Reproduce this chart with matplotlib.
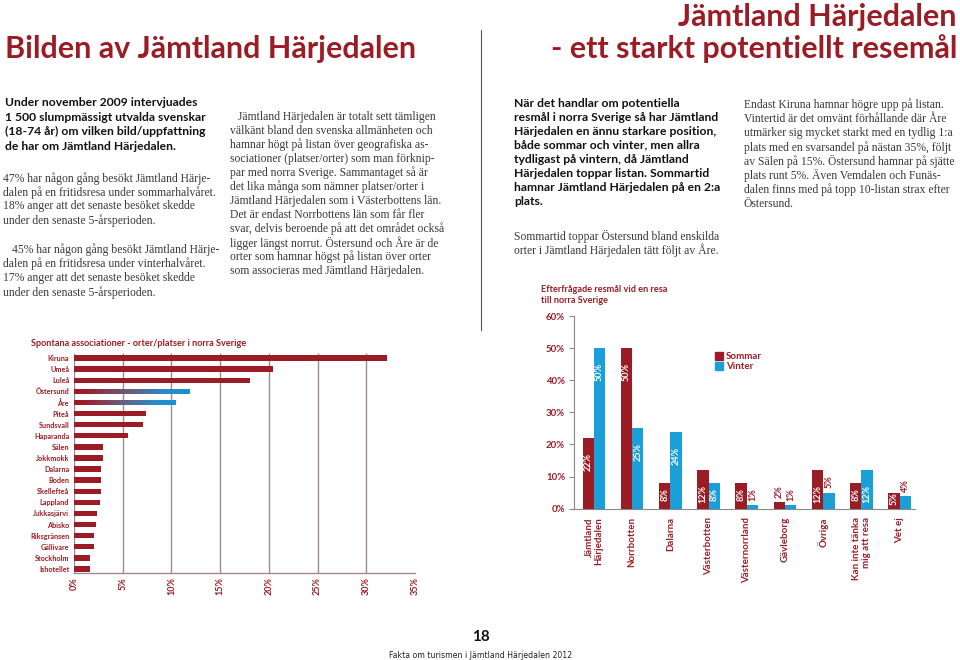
import matplotlib
matplotlib.use("Agg")
import matplotlib.pyplot as plt
import numpy as np
from matplotlib.colors import LinearSegmentedColormap
from matplotlib.lines import Line2D

# ---------------- data ----------------
assoc_places = ["Kiruna", "Umeå", "Luleå", "Östersund", "Åre", "Piteå", "Sundsvall",
                "Haparanda", "Sälen", "Jokkmokk", "Dalarna", "Boden", "Skellefteå",
                "Lappland", "Jukkasjärvi", "Abisko", "Riksgränsen", "Gällivare",
                "Stockholm", "Ishotellet"]
assoc_values = [32.1, 20.4, 18.1, 11.9, 10.4, 7.4, 7.1, 5.5, 3.0, 3.0, 2.8, 2.8, 2.8,
                2.7, 2.4, 2.3, 2.1, 2.1, 1.6, 1.6]
assoc_highlight = ["Östersund", "Åre"]
assoc_ticks = [0, 5, 10, 15, 20, 25, 30, 35]

dest_categories = ["Jämtland\nHärjedalen", "Norrbotten", "Dalarna", "Västerbotten",
                   "Västernorrland", "Gävleborg", "Övriga", "Kan inte tänka\nmig att resa",
                   "Vet ej"]
dest_sommar = [22, 50, 8, 12, 8, 2, 12, 8, 5]
dest_vinter = [50, 25, 24, 8, 1, 1, 5, 12, 4]
dest_ticks = [0, 10, 20, 30, 40, 50, 60]

RED = "#9b1c24"
BLUE = "#1b9fd9"
GRID = "#a08a90"
SANS = ["Lato", "DejaVu Sans"]
SERIF = ["Liberation Serif", "DejaVu Serif"]
TXT = "#3a3a3a"

W, H = 960, 660
fig = plt.figure(figsize=(9.6, 6.6), dpi=100)


def fx(x):
    return x / W


def fy(y):
    return 1 - y / H


def ftext(x, y, s, **kw):
    fig.text(fx(x), fy(y), s, **kw)


# ---------------- header ----------------
ftext(5, 49, "Bilden av Jämtland Härjedalen", family=SANS, weight="bold",
      fontsize=22, color=RED, ha="left", va="center")
ftext(957, 17, "Jämtland Härjedalen", family=SANS, weight="bold",
      fontsize=22, color=RED, ha="right", va="center")
ftext(957, 49, "- ett starkt potentiellt resemål", family=SANS, weight="bold",
      fontsize=22, color=RED, ha="right", va="center")
fig.add_artist(Line2D([fx(480.5), fx(480.5)], [fy(30), fy(330)], color="#555555", lw=0.8))

# ---------------- text columns ----------------
col1_bold = ["Under november 2009 intervjuades",
             "1 500 slumpmässigt utvalda svenskar",
             "(18-74 år) om vilken bild/uppfattning",
             "de har om Jämtland Härjedalen."]
col1_p1 = ["47% har någon gång besökt Jämtland Härje-",
           "dalen på en fritidsresa under sommarhalvåret.",
           "18% anger att det senaste besöket skedde",
           "under den senaste 5-årsperioden."]
col1_p2 = ["45% har någon gång besökt Jämtland Härje-",
           "dalen på en fritidsresa under vinterhalvåret.",
           "17% anger att det senaste besöket skedde",
           "under den senaste 5-årsperioden."]
col2 = ["Jämtland Härjedalen är totalt sett tämligen",
        "välkänt bland den svenska allmänheten och",
        "hamnar högt på listan över geografiska as-",
        "sociationer (platser/orter) som man förknip-",
        "par med norra Sverige. Sammantaget så är",
        "det lika många som nämner platser/orter i",
        "Jämtland Härjedalen som i Västerbottens län.",
        "Det är endast Norrbottens län som får fler",
        "svar, delvis beroende på att det området också",
        "ligger längst norrut. Östersund och Åre är de",
        "orter som hamnar högst på listan över orter",
        "som associeras med Jämtland Härjedalen."]
col3_bold = ["När det handlar om potentiella",
             "resmål i norra Sverige så har Jämtland",
             "Härjedalen en ännu starkare position,",
             "både sommar och vinter, men allra",
             "tydligast på vintern, då Jämtland",
             "Härjedalen toppar listan. Sommartid",
             "hamnar Jämtland Härjedalen på en 2:a",
             "plats."]
col3_p = ["Sommartid toppar Östersund bland enskilda",
          "orter i Jämtland Härjedalen tätt följt av Åre."]
col4 = ["Endast Kiruna hamnar högre upp på listan.",
        "Vintertid är det omvänt förhållande där Åre",
        "utmärker sig mycket starkt med en tydlig 1:a",
        "plats med en svarsandel på nästan 35%, följt",
        "av Sälen på 15%. Östersund hamnar på sjätte",
        "plats runt 5%. Även Vemdalen och Funäs-",
        "dalen finns med på topp 10-listan strax efter",
        "Östersund."]


def para(lines, x, y0, dy, bold=False, indent=0):
    for i, s in enumerate(lines):
        xx = x + (indent if i == 0 else 0)
        if bold:
            ftext(xx, y0 + i * dy, s, family=SANS, weight="bold", fontsize=8.75,
                  color="#111111", ha="left", va="center")
        else:
            ftext(xx, y0 + i * dy, s, family=SERIF, fontsize=8.4,
                  color=TXT, ha="left", va="center")


para(col1_bold, 5, 102.7, 14.5, bold=True)
para(col1_p1, 3, 178.3, 14.1)
para(col1_p2, 3, 250, 14.1, indent=9)
para(col2, 230, 116.7, 14.03, indent=8)
para(col3_bold, 514, 103.3, 14.0, bold=True)
para(col3_p, 514, 236, 14.1)
para(col4, 744, 105, 14.1)

# ---------------- left chart: spontaneous associations ----------------
ax1 = fig.add_axes([fx(74), fy(573), (415 - 74) / W, (573 - 353) / H])
ypos = np.arange(len(assoc_places))
bar_h = 0.48
bars = ax1.barh(ypos, assoc_values, height=bar_h, color=RED, zorder=3)
cmap = LinearSegmentedColormap.from_list(
    "grad", [(0, RED), (0.08, RED), (0.45, "#6c5a78"), (0.8, "#2a8cc9"), (1, "#1b90d2")])
grad = np.linspace(0, 1, 256).reshape(1, -1)
for name, v, b, y in zip(assoc_places, assoc_values, bars, ypos):
    if name in assoc_highlight:
        b.set_facecolor("none")
        im = ax1.imshow(grad, cmap=cmap, aspect="auto", zorder=4,
                        extent=(0, v, y + bar_h / 2, y - bar_h / 2))
        im.set_clip_path(b)
ax1.vlines(assoc_ticks[:-1], -0.45, 19.36, color=GRID, lw=1.0, zorder=1)
ax1.set_xlim(0, 35)
ax1.set_ylim(19.36, -0.45)
ax1.set_yticks(ypos)
ax1.set_yticklabels(assoc_places, family=SANS, weight="bold", fontsize=5.2, color=RED)
ax1.set_xticks(assoc_ticks)
ax1.set_xticklabels([f"{t}%" for t in assoc_ticks], rotation=90, family=SANS,
                    weight="bold", fontsize=6.5, color=RED, va="top")
ax1.tick_params(axis="both", length=0)
ax1.tick_params(axis="y", pad=3.5)
ax1.tick_params(axis="x", pad=3)
for s in ["top", "right", "left"]:
    ax1.spines[s].set_visible(False)
ax1.spines["bottom"].set_color(GRID)
ax1.spines["bottom"].set_linewidth(1.0)
ax1.set_facecolor("none")
ftext(31, 343, "Spontana associationer - orter/platser i norra Sverige", family=SANS,
      weight="bold", fontsize=6.6, color=RED, ha="left", va="center")

# ---------------- right chart: requested destinations ----------------
ax2 = fig.add_axes([fx(574), fy(508.7), (915 - 574) / W, (508.7 - 316) / H])
xpos = np.arange(len(dest_categories))
bw = 0.296
ax2.bar(xpos - bw / 2, dest_sommar, width=bw, color=RED, zorder=3, label="Sommar")
ax2.bar(xpos + bw / 2, dest_vinter, width=bw, color=BLUE, zorder=3, label="Vinter")


def value_label(x, v, inside):
    if inside:
        ytop = max(v - 4.6, min(6.4, v))
        ax2.text(x, ytop, f"{v}%", rotation=90, ha="center", va="top", color="white",
                 family=SANS, weight="bold", fontsize=6.6, zorder=5)
    else:
        ax2.annotate(f"{v}%", (x, v), xytext=(0, 3), textcoords="offset points",
                     rotation=90, ha="center", va="bottom", color=RED,
                     family=SANS, weight="bold", fontsize=6.6, zorder=5)


for x, v in zip(xpos, dest_sommar):
    value_label(x - bw / 2, v, v >= 5)
for x, v in zip(xpos, dest_vinter):
    value_label(x + bw / 2, v, v >= 8)

ax2.set_xlim(-0.52, 8.40)
ax2.set_ylim(0, 60)
ax2.set_yticks(dest_ticks)
ax2.set_yticklabels([f"{t}%" for t in dest_ticks], family=SANS, weight="bold",
                    fontsize=6.9, color=RED)
ax2.set_xticks(xpos)
ax2.set_xticklabels(dest_categories, rotation=90, family=SANS, weight="bold",
                    fontsize=7.0, color=RED, va="top", ha="center", multialignment="right",
                    linespacing=1.1)
ax2.tick_params(axis="y", length=3.4, color="#8a8a8a", width=0.8, pad=3)
ax2.tick_params(axis="x", length=0, pad=6)
for s in ["top", "right"]:
    ax2.spines[s].set_visible(False)
for s in ["left", "bottom"]:
    ax2.spines[s].set_color("#8a8a8a")
    ax2.spines[s].set_linewidth(0.8)
ax2.set_facecolor("none")

handles = [Line2D([], [], marker="s", ls="none", markersize=5.8, color=RED),
           Line2D([], [], marker="s", ls="none", markersize=5.8, color=BLUE)]
ax2.legend(handles, ["Sommar", "Vinter"], loc="upper left",
           bbox_to_anchor=(fx(716), fy(352)), bbox_transform=fig.transFigure,
           frameon=False, handlelength=0.7, handletextpad=0.3, labelspacing=0.15,
           borderpad=0, borderaxespad=0, labelcolor=RED,
           prop={"family": SANS, "weight": "bold", "size": 7.0})

ftext(541, 289.5, "Efterfrågade resmål vid en resa", family=SANS, weight="bold",
      fontsize=6.6, color=RED, ha="left", va="center")
ftext(541, 300.3, "till norra Sverige", family=SANS, weight="bold",
      fontsize=6.6, color=RED, ha="left", va="center")

# ---------------- footer ----------------
ftext(481, 637, "18", family=SANS, weight="bold", fontsize=11, color="#111111",
      ha="center", va="center")
ftext(481, 656, "Fakta om turismen i Jämtland Härjedalen 2012", family=["DejaVu Sans"],
      fontsize=5.6, color="#222222", ha="center", va="center")

fig.savefig("out.png", dpi=100)
